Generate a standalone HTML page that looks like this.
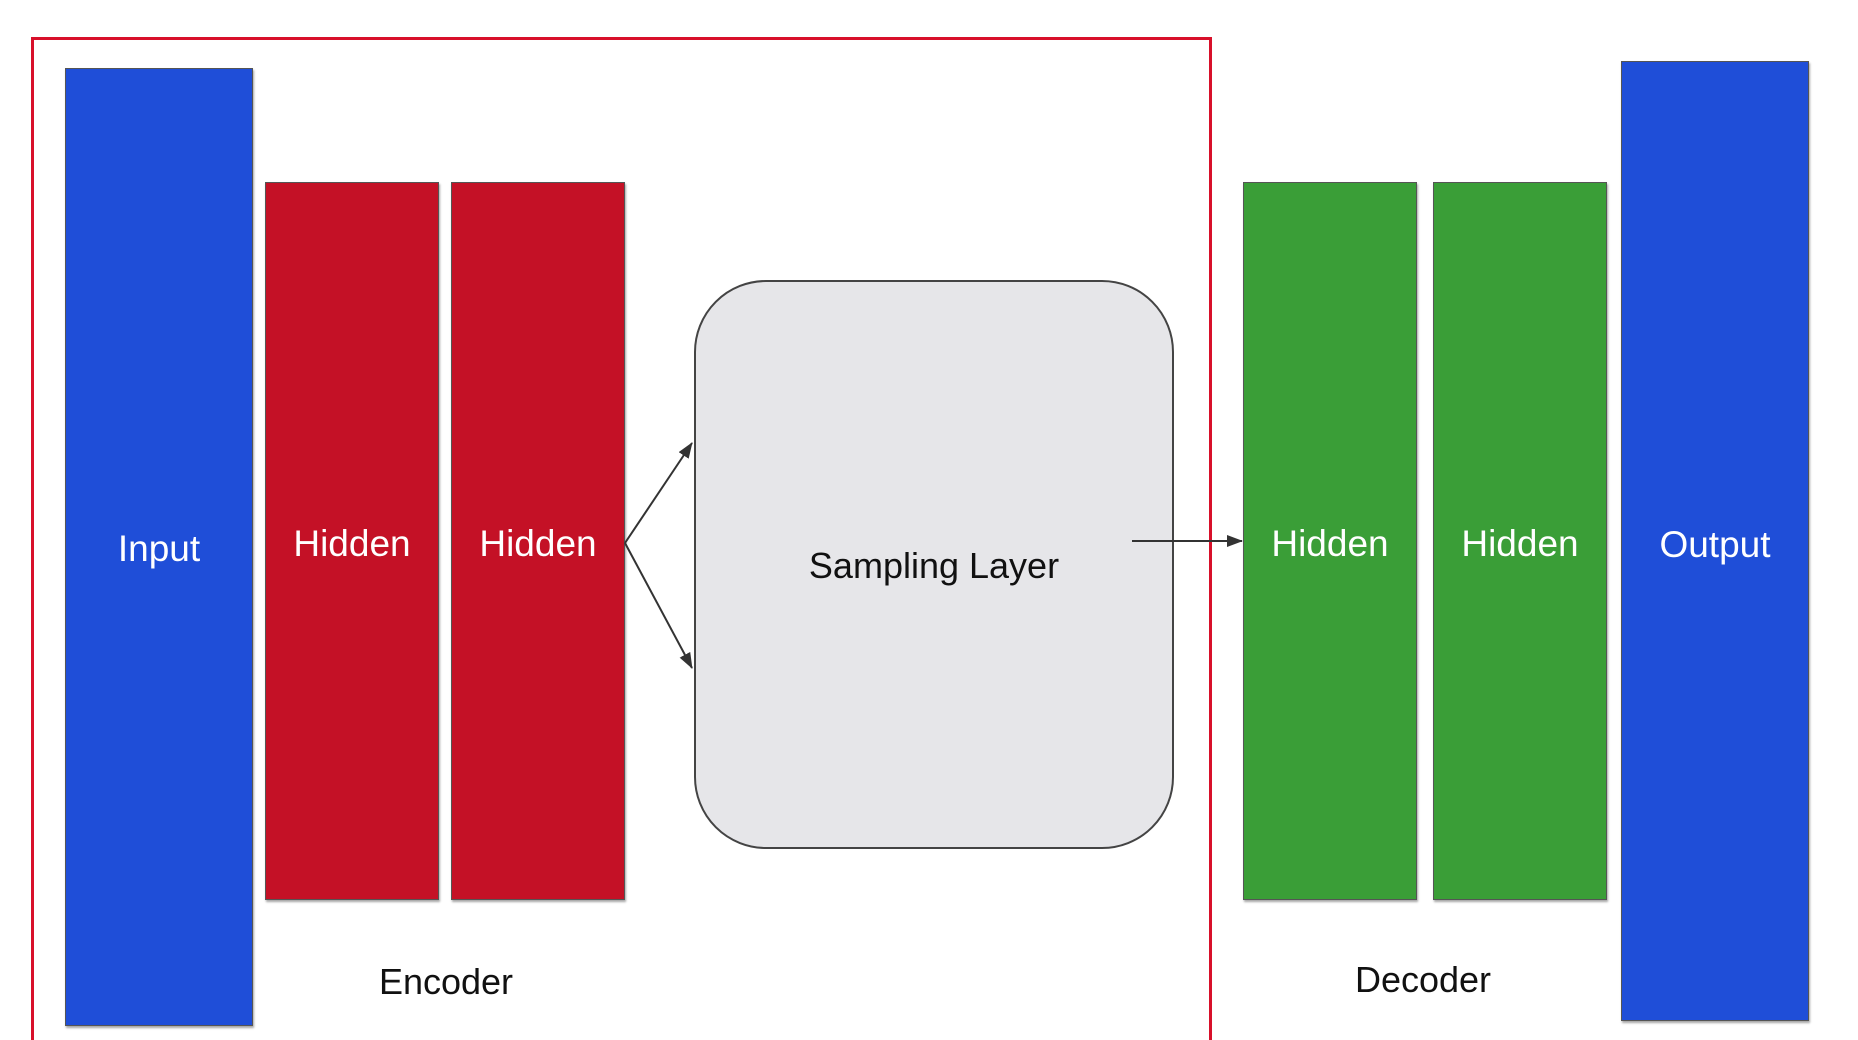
<!DOCTYPE html>
<html><head><style>
html,body{margin:0;width:1858px;height:1040px;overflow:hidden}
body{background:#fff;position:relative;font-family:"Liberation Sans",sans-serif}
.b{position:absolute;box-sizing:border-box;border:1px solid #555;box-shadow:1px 2px 2px rgba(0,0,0,.35);display:flex;align-items:center;justify-content:center;color:#fff;font-size:37px}
.t{position:absolute;font-size:36px;color:#111;transform:translateX(-50%)}
</style></head><body>
<div style="position:absolute;left:31px;top:37px;width:1181px;height:1003px;border:3px solid #d8102a;border-bottom:none;box-sizing:border-box"></div>
<div class="b" style="left:65px;top:68px;width:188px;height:958px;background:#1f4ed8;padding-top:4px">Input</div>
<div class="b" style="left:265px;top:182px;width:174px;height:718px;background:#c41126;padding-top:5px">Hidden</div>
<div class="b" style="left:451px;top:182px;width:174px;height:718px;background:#c41126;padding-top:5px">Hidden</div>
<div class="b" style="left:694px;top:280px;width:480px;height:569px;background:#e6e6e9;border-radius:72px;border:2px solid #444;box-shadow:none;color:#111;font-size:36px;padding-top:2px;">Sampling Layer</div>
<div class="b" style="left:1243px;top:182px;width:174px;height:718px;background:#3a9e37;padding-top:5px">Hidden</div>
<div class="b" style="left:1433px;top:182px;width:174px;height:718px;background:#3a9e37;padding-top:5px">Hidden</div>
<div class="b" style="left:1621px;top:61px;width:188px;height:960px;background:#1f4ed8;padding-top:8px">Output</div>
<div class="t" style="left:446px;top:961px">Encoder</div>
<div class="t" style="left:1423px;top:959px">Decoder</div>
<svg width="1858" height="1040" style="position:absolute;left:0;top:0">
<defs><marker id="a" markerWidth="16" markerHeight="12" refX="15" refY="6" orient="auto" markerUnits="userSpaceOnUse"><path d="M0,0L16,6L0,12z" fill="#333"/></marker></defs>
<g stroke="#333" stroke-width="2" fill="none">
<line x1="625" y1="543" x2="692" y2="443" marker-end="url(#a)"/>
<line x1="625" y1="543" x2="692" y2="668" marker-end="url(#a)"/>
<line x1="1132" y1="541" x2="1242" y2="541" marker-end="url(#a)"/>
</g></svg>
</body></html>
